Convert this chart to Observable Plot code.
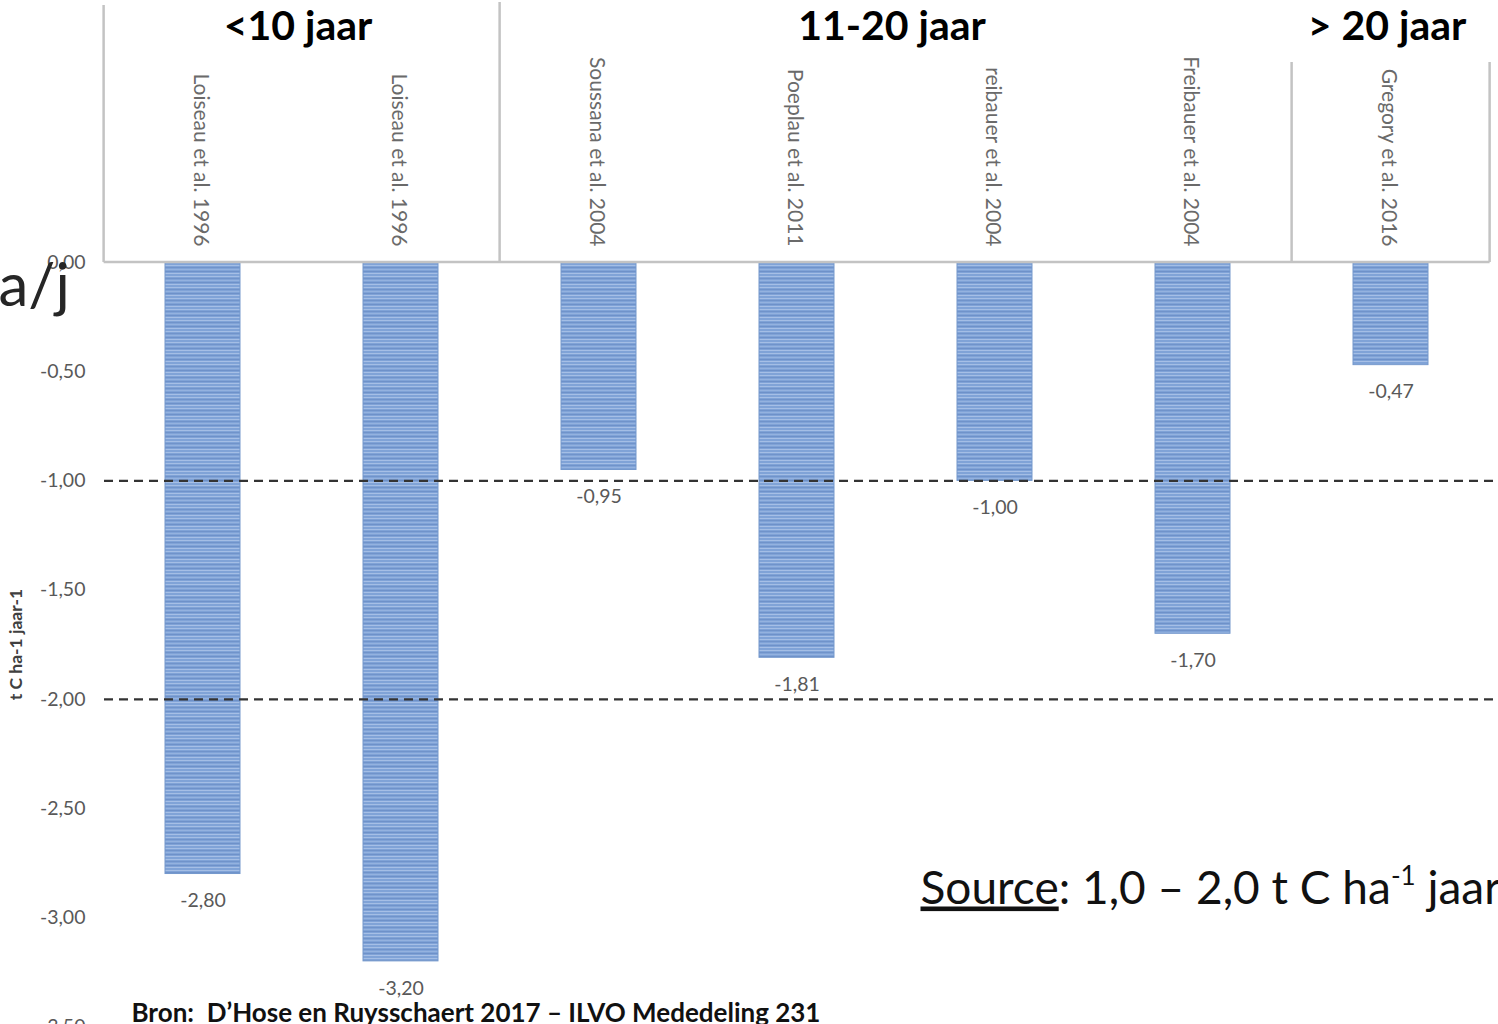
<!DOCTYPE html>
<html>
<head>
<meta charset="utf-8">
<script src="https://cdn.jsdelivr.net/npm/d3@7"></script>
<script src="https://cdn.jsdelivr.net/npm/@observablehq/plot@0.6"></script>
<style>
  html, body { margin: 0; padding: 0; background: #fff; overflow: hidden; }
  #chart svg { display: block; }
</style>
</head>
<body>
<div id="chart"></div>
<script>
// ---- data ----
const studies = ["Loiseau et al. 1996", "Loiseau et al. 1996", "Soussana et al. 2004", "Poeplau et al. 2011", "reibauer et al. 2004", "Freibauer et al. 2004", "Gregory et al. 2016"];
const values = [-2.80, -3.20, -0.95, -1.81, -1.00, -1.70, -0.47];
const groups = ["<10 jaar", "<10 jaar", "11-20 jaar", "11-20 jaar", "11-20 jaar", "11-20 jaar", "> 20 jaar"];
const groupNames = ["<10 jaar", "11-20 jaar", "> 20 jaar"];
const yTicks = [0, -0.5, -1, -1.5, -2, -2.5, -3, -3.5];
const refLines = [-1, -2];
const yLabel = "t C ha-1 jaar-1";
const sourceText = "Source: 1,0 – 2,0 t C ha-1 jaar";
const overlayText = "a/j";
const caption = "Bron:  D’Hose en Ruysschaert 2017 – ILVO Mededeling 231";

// ---- build ----
const fmt = v => v.toFixed(2).replace(".", ",");
const rows = studies.map((s, i) => ({i, study: s, value: values[i], group: groups[i], label: fmt(values[i])}));
const spans = groupNames.map(g => {
  const idx = rows.filter(r => r.group === g).map(r => r.i);
  return {name: g, first: d3.min(idx), last: d3.max(idx)};
});

const xOpts = {type: "band", domain: d3.range(studies.length), range: [104, 1490], paddingInner: 0.62, paddingOuter: 0.31, axis: null};
const xs = Plot.scale({x: xOpts});
const step = xs.step, bw = xs.bandwidth;

const FONT = "Lato, 'Open Sans', sans-serif";

// stripes pattern used as bar fill
const defs = () => {
  const d = d3.create("svg:defs");
  const p = d.append("pattern").attr("id", "stripes").attr("patternUnits", "userSpaceOnUse")
    .attr("width", 20).attr("height", 11);
  p.append("rect").attr("width", 20).attr("height", 11).attr("fill", "#80a3d7");
  const lines = [[1, "#a8c1e7"], [3, "#6e91c9"], [5, "#96b4e0"], [7, "#6c8fc8"], [9, "#abc3e8"]];
  lines.forEach(([y, c]) => p.append("rect").attr("y", y).attr("width", 20).attr("height", 0.9).attr("fill", c));
  return d.node();
};

// category-axis frame (the grey box lines of the top axis)
const dividerTops = [5, 2, 62, 62];
const frameMark = (index, scales) => {
  const g = d3.create("svg:g").attr("stroke", "#c3c3c3").attr("stroke-width", 2.5).attr("fill", "none");
  const y0 = scales.y(0);
  const cx = i => scales.x(i) + bw / 2;
  const bx = [...spans.map(s => cx(s.first) - step / 2), cx(spans[spans.length - 1].last) + step / 2];
  bx.forEach((x, k) => g.append("line").attr("x1", x).attr("x2", x).attr("y1", y0).attr("y2", dividerTops[k]));
  g.append("line").attr("x1", bx[0]).attr("x2", bx[bx.length - 1]).attr("y1", y0).attr("y2", y0);
  return g.node();
};

const groupLabelMarks = spans.map(s => Plot.text([s], {
  x: "first", text: "name", frameAnchor: "top", dx: (s.last - s.first) * step / 2 - 4, dy: -252,
  fontSize: 41, fontWeight: "bold", fill: "#000", fontFamily: FONT, letterSpacing: -1
}));

const chart = Plot.plot({
  width: 1498,
  height: 1056,
  marginTop: 262,
  marginBottom: 30,
  marginLeft: 104,
  marginRight: 0,
  style: {fontFamily: FONT, color: "#595959", background: "#fff"},
  x: xOpts,
  y: {domain: [-3.5, 0], range: [1026.4, 262], axis: null},
  marks: [
    defs,
    Plot.barY(rows, {x: "i", y: "value", fill: "url(#stripes)", stroke: "#7498cc", strokeWidth: 1}),
    Plot.ruleY(refLines, {stroke: "#333", strokeWidth: 2.2, strokeDasharray: "9,6"}),
    frameMark,
    Plot.axisY({ticks: yTicks, tickFormat: fmt, tickSize: 0, tickPadding: 19, fontSize: 19.5, fill: "#595959", label: null}),
    Plot.text([yLabel], {frameAnchor: "left", dx: -88, rotate: -90, textAnchor: "middle", fontSize: 17.5, fontWeight: "bold", fill: "#404040"}),
    Plot.text(rows, {x: "i", y: "value", text: "label", dy: 27, fontSize: 19.5, fill: "#595959"}),
    Plot.text(rows, {x: "i", text: "study", frameAnchor: "top", dx: 6, dy: -16, rotate: 90, textAnchor: "end", fontSize: 21, fill: "#6a6a6a"}),
    ...groupLabelMarks,
    Plot.text([overlayText], {frameAnchor: "top-left", dx: -106, dy: 43, lineAnchor: "bottom", textAnchor: "start", fontSize: 60, fill: "#262626"}),
    Plot.text([sourceText], {frameAnchor: "top-left", dx: 816, dy: 641, lineAnchor: "bottom", textAnchor: "start", fontSize: 46, fill: "#111"}),
    Plot.text([caption], {frameAnchor: "top-left", dx: 27, dy: 759, lineAnchor: "bottom", textAnchor: "start", fontSize: 26, fontWeight: "bold", fill: "#111"})
  ]
});

// rich formatting of the "Source" annotation (underline + superscript)
d3.select(chart).selectAll("text").filter(function () { return this.textContent === sourceText; })
  .each(function () {
    const t = d3.select(this);
    t.text("");
    t.append("tspan").attr("text-decoration", "underline").text("Source");
    t.append("tspan").text(": 1,0 – 2,0 t C ha");
    t.append("tspan").attr("dy", -19).attr("font-size", 26).text("-1");
    t.append("tspan").attr("dy", 19).text(" jaar");
  });

document.getElementById("chart").append(chart);
</script>
</body>
</html>
